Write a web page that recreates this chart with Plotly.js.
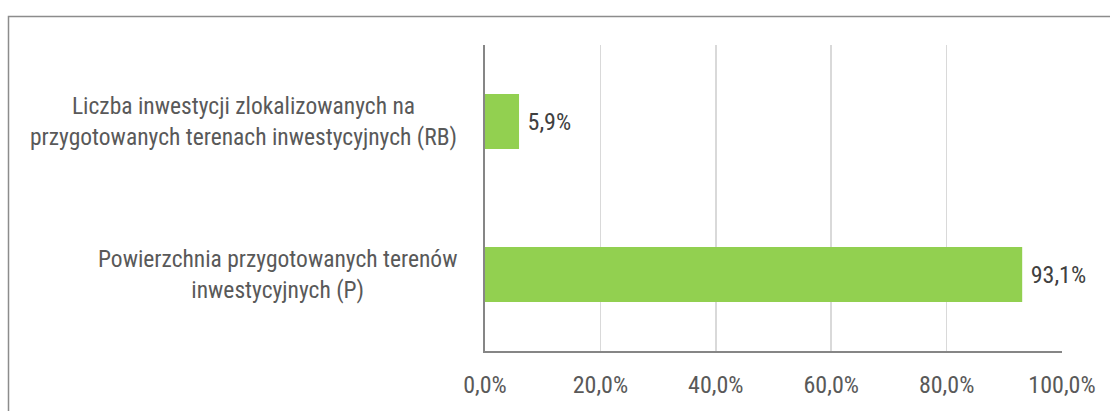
<!DOCTYPE html>
<html>
<head>
<meta charset="utf-8">
<script src="https://cdn.plot.ly/plotly-3.0.1.min.js"></script>
<style>
  html, body { margin: 0; padding: 0; background: #ffffff; }
  #chart { width: 1110px; height: 411px; }
</style>
</head>
<body>
<div id="chart"></div>
<script>
// Data
const categoryKeys = ['P', 'RB'];
const categoryLabels = [
  'Powierzchnia przygotowanych terenów<br>inwestycyjnych (P)',
  'Liczba inwestycji zlokalizowanych na<br>przygotowanych terenach inwestycyjnych (RB)'
];
const values = [93.1, 5.9];
const xTickValues = [0, 20, 40, 60, 80, 100];
const xTickLabels = ['0,0%', '20,0%', '40,0%', '60,0%', '80,0%', '100,0%'];

const FONT = '"Roboto Condensed", "Liberation Sans Narrow", "Arial Narrow", Roboto, sans-serif';
const TEXT_COLOR = '#595959';
const FS = 24;
const LABEL_FS = 23.5;

const trace = {
  type: 'bar',
  orientation: 'h',
  y: categoryKeys,
  x: values,
  marker: { color: '#92d050' },
  width: 0.36,
  texttemplate: '\u00a0%{x:.1f}%',
  textposition: 'outside',
  cliponaxis: false,
  textfont: { family: FONT, size: FS, color: '#404040' },
  hoverinfo: 'skip'
};

const annotations = categoryKeys.map((k, i) => ({
  xref: 'paper', yref: 'y',
  x: 0, y: k,
  xanchor: 'right', yanchor: 'middle',
  xshift: -26,
  align: 'center',
  showarrow: false,
  text: categoryLabels[i],
  font: { family: FONT, size: LABEL_FS, color: TEXT_COLOR }
}));

const layout = {
  width: 1110,
  height: 411,
  margin: { l: 485, r: 48, t: 45, b: 60 },
  paper_bgcolor: '#ffffff',
  plot_bgcolor: '#ffffff',
  separators: ',.',
  showlegend: false,
  font: { family: FONT, size: FS, color: TEXT_COLOR },
  xaxis: {
    range: [0, 100],
    tickmode: 'array',
    tickvals: xTickValues,
    ticktext: xTickLabels,
    showgrid: true,
    gridcolor: '#d9d9d9',
    gridwidth: 1.5,
    zeroline: false,
    showline: true,
    linecolor: '#868686',
    linewidth: 1.5,
    ticks: '',
    ticklen: 0,
    ticklabelstandoff: 12,
    tickfont: { family: FONT, size: FS, color: TEXT_COLOR },
    fixedrange: true
  },
  yaxis: {
    type: 'category',
    categoryorder: 'array',
    categoryarray: categoryKeys,
    range: [-0.5, 1.5],
    showticklabels: false,
    showgrid: false,
    zeroline: false,
    showline: true,
    linecolor: '#868686',
    linewidth: 2,
    ticks: '',
    fixedrange: true
  },
  annotations: annotations,
  shapes: [{
    type: 'rect',
    xref: 'paper', yref: 'paper',
    x0: (8.5 - 485) / 577, x1: (1120 - 485) / 577,
    y0: -0.4, y1: (351 - 16.5) / 306,
    line: { color: '#8c8c8c', width: 1.5 },
    fillcolor: 'rgba(0,0,0,0)',
    layer: 'below'
  }]
};

Plotly.newPlot('chart', [trace], layout, { displayModeBar: false, staticPlot: true });
</script>
</body>
</html>
